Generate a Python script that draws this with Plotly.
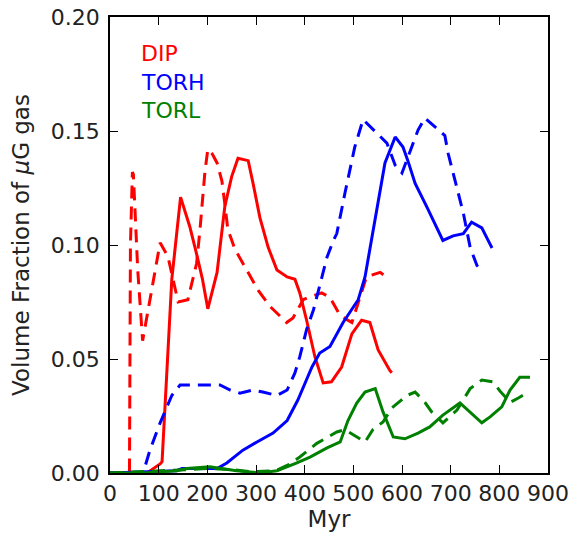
import plotly.graph_objects as go

# ---- data (Myr, volume fraction) ----
dip_solid_x = [0, 76, 103, 107, 117, 127, 145, 164, 178, 190, 201, 220, 236, 250, 263, 284, 294, 308, 325, 343, 364, 380, 390, 404, 421, 438, 455, 476, 497, 517, 534, 551, 575, 579]
dip_solid_y = [0, 0, 0.004, 0.005, 0.045, 0.085, 0.121, 0.108, 0.096, 0.085, 0.072, 0.088, 0.117, 0.130, 0.138, 0.137, 0.127, 0.112, 0.099, 0.089, 0.086, 0.085, 0.079, 0.067, 0.051, 0.0395, 0.040, 0.0465, 0.061, 0.067, 0.066, 0.054, 0.045, 0.044]

dip_dash_x = [0, 40, 42, 46, 48, 57, 67, 80, 94, 103, 119, 140, 160, 178, 185, 195, 201, 210, 220, 230, 236, 242, 257, 284, 305, 329, 363, 376, 397, 407, 435, 452, 473, 497, 513, 527, 555, 571]
dip_dash_y = [0, 0, 0.10, 0.132, 0.131, 0.089, 0.058, 0.073, 0.090, 0.101, 0.095, 0.075, 0.076, 0.092, 0.107, 0.132, 0.142, 0.140, 0.136, 0.128, 0.118, 0.107, 0.098, 0.088, 0.080, 0.073, 0.066, 0.068, 0.076, 0.077, 0.079, 0.077, 0.069, 0.066, 0.077, 0.086, 0.088, 0.0855]

torh_solid_x = [0, 137, 148, 220, 240, 273, 302, 335, 364, 386, 404, 415, 431, 452, 479, 510, 524, 534, 551, 565, 586, 602, 612, 627, 651, 684, 705, 726, 743, 764, 777, 785]
torh_solid_y = [0, 0.001, 0.002, 0.002, 0.0044, 0.010, 0.0136, 0.0175, 0.023, 0.032, 0.041, 0.0465, 0.0526, 0.0555, 0.066, 0.076, 0.086, 0.098, 0.1197, 0.136, 0.1474, 0.143, 0.137, 0.127, 0.1167, 0.102, 0.104, 0.105, 0.110, 0.1075, 0.102, 0.0987]

torh_dash_x = [0, 68, 82, 103, 127, 144, 226, 247, 267, 294, 314, 343, 364, 380, 390, 404, 418, 431, 446, 459, 466, 483, 503, 520, 548, 569, 586, 600, 620, 633, 647, 671, 688, 695, 709, 726, 740, 754, 764]
torh_dash_y = [0, 0, 0.010, 0.022, 0.034, 0.0386, 0.0386, 0.0364, 0.035, 0.0364, 0.0355, 0.034, 0.0364, 0.0439, 0.051, 0.063, 0.0715, 0.082, 0.0947, 0.102, 0.105, 0.123, 0.143, 0.155, 0.149, 0.1447, 0.135, 0.1316, 0.143, 0.1504, 0.1557, 0.151, 0.148, 0.140, 0.1285, 0.114, 0.099, 0.091, 0.089]

torl_solid_x = [0, 68, 137, 158, 205, 226, 260, 308, 343, 384, 411, 446, 473, 489, 507, 524, 545, 561, 582, 606, 633, 657, 684, 719, 740, 764, 781, 805, 822, 842, 863]
torl_solid_y = [0, 0, 0.001, 0.002, 0.0027, 0.002, 0.001, 0.0, 0.001, 0.0044, 0.007, 0.011, 0.0136, 0.023, 0.0307, 0.0355, 0.037, 0.0268, 0.0158, 0.015, 0.0175, 0.0202, 0.0254, 0.0307, 0.0268, 0.022, 0.0246, 0.029, 0.0364, 0.042, 0.042]

torl_dash_x = [0, 130, 160, 200, 250, 290, 340, 370, 390, 425, 466, 483, 507, 524, 540, 561, 579, 610, 627, 647, 661, 684, 713, 740, 764, 787, 801, 822, 840, 859]
torl_dash_y = [0, 0.001, 0.0015, 0.002, 0.0015, 0.0005, 0.001, 0.004, 0.007, 0.013, 0.018, 0.019, 0.016, 0.0136, 0.019, 0.0224, 0.0285, 0.034, 0.0355, 0.031, 0.0268, 0.022, 0.0276, 0.037, 0.0408, 0.040, 0.036, 0.031, 0.033, 0.0355]

labels = ["DIP", "TORH", "TORL"]
colors = ["#ff0000", "#0000ff", "#008000"]

x_ticks = [0, 100, 200, 300, 400, 500, 600, 700, 800, 900]
y_ticks = [0.00, 0.05, 0.10, 0.15, 0.20]

FONT = "DejaVu Sans"
DASH = "13px,8px"

fig = go.Figure()
series = [
    (dip_solid_x, dip_solid_y, dip_dash_x, dip_dash_y),
    (torh_solid_x, torh_solid_y, torh_dash_x, torh_dash_y),
    (torl_solid_x, torl_solid_y, torl_dash_x, torl_dash_y),
]
for (sx, sy, dx, dy), c, name in zip(series, colors, labels):
    fig.add_trace(go.Scatter(x=sx, y=sy, mode="lines", name=name,
                             line=dict(color=c, width=3), showlegend=False))
    fig.add_trace(go.Scatter(x=dx, y=dy, mode="lines", name=name + " (dashed)",
                             line=dict(color=c, width=3, dash=DASH), showlegend=False))

legend_y = [0.921, 0.857, 0.796]
for name, c, yy in zip(labels, colors, legend_y):
    fig.add_annotation(text=name, xref="paper", yref="paper", x=0.066, y=yy,
                       xanchor="left", yanchor="middle", showarrow=False,
                       font=dict(family=FONT, size=22, color=c))

axis_common = dict(showline=True, linecolor="#000000", linewidth=1.5, mirror="allticks",
                   ticks="inside", ticklen=8, tickwidth=1, tickcolor="#000000",
                   showgrid=False, zeroline=False, automargin=False,
                   tickfont=dict(family=FONT, size=22, color="#222222"))

fig.update_xaxes(range=[0, 900], tickvals=x_ticks, ticktext=[str(v) for v in x_ticks],
                 title=dict(text="Myr", font=dict(family=FONT, size=23, color="#222222"), standoff=4),
                 **axis_common)
fig.update_yaxes(range=[0, 0.2], tickvals=y_ticks, ticktext=["%.2f" % v for v in y_ticks],
                 ticklabelstandoff=4,
                 title=dict(text="Volume Fraction of <i>μ</i>G gas",
                            font=dict(family=FONT, size=23, color="#222222"), standoff=15),
                 **axis_common)

fig.update_layout(width=572, height=533, margin=dict(l=110, r=24, t=17, b=60),
                  plot_bgcolor="white", paper_bgcolor="white",
                  font=dict(family=FONT))

fig.write_html("out.html")
